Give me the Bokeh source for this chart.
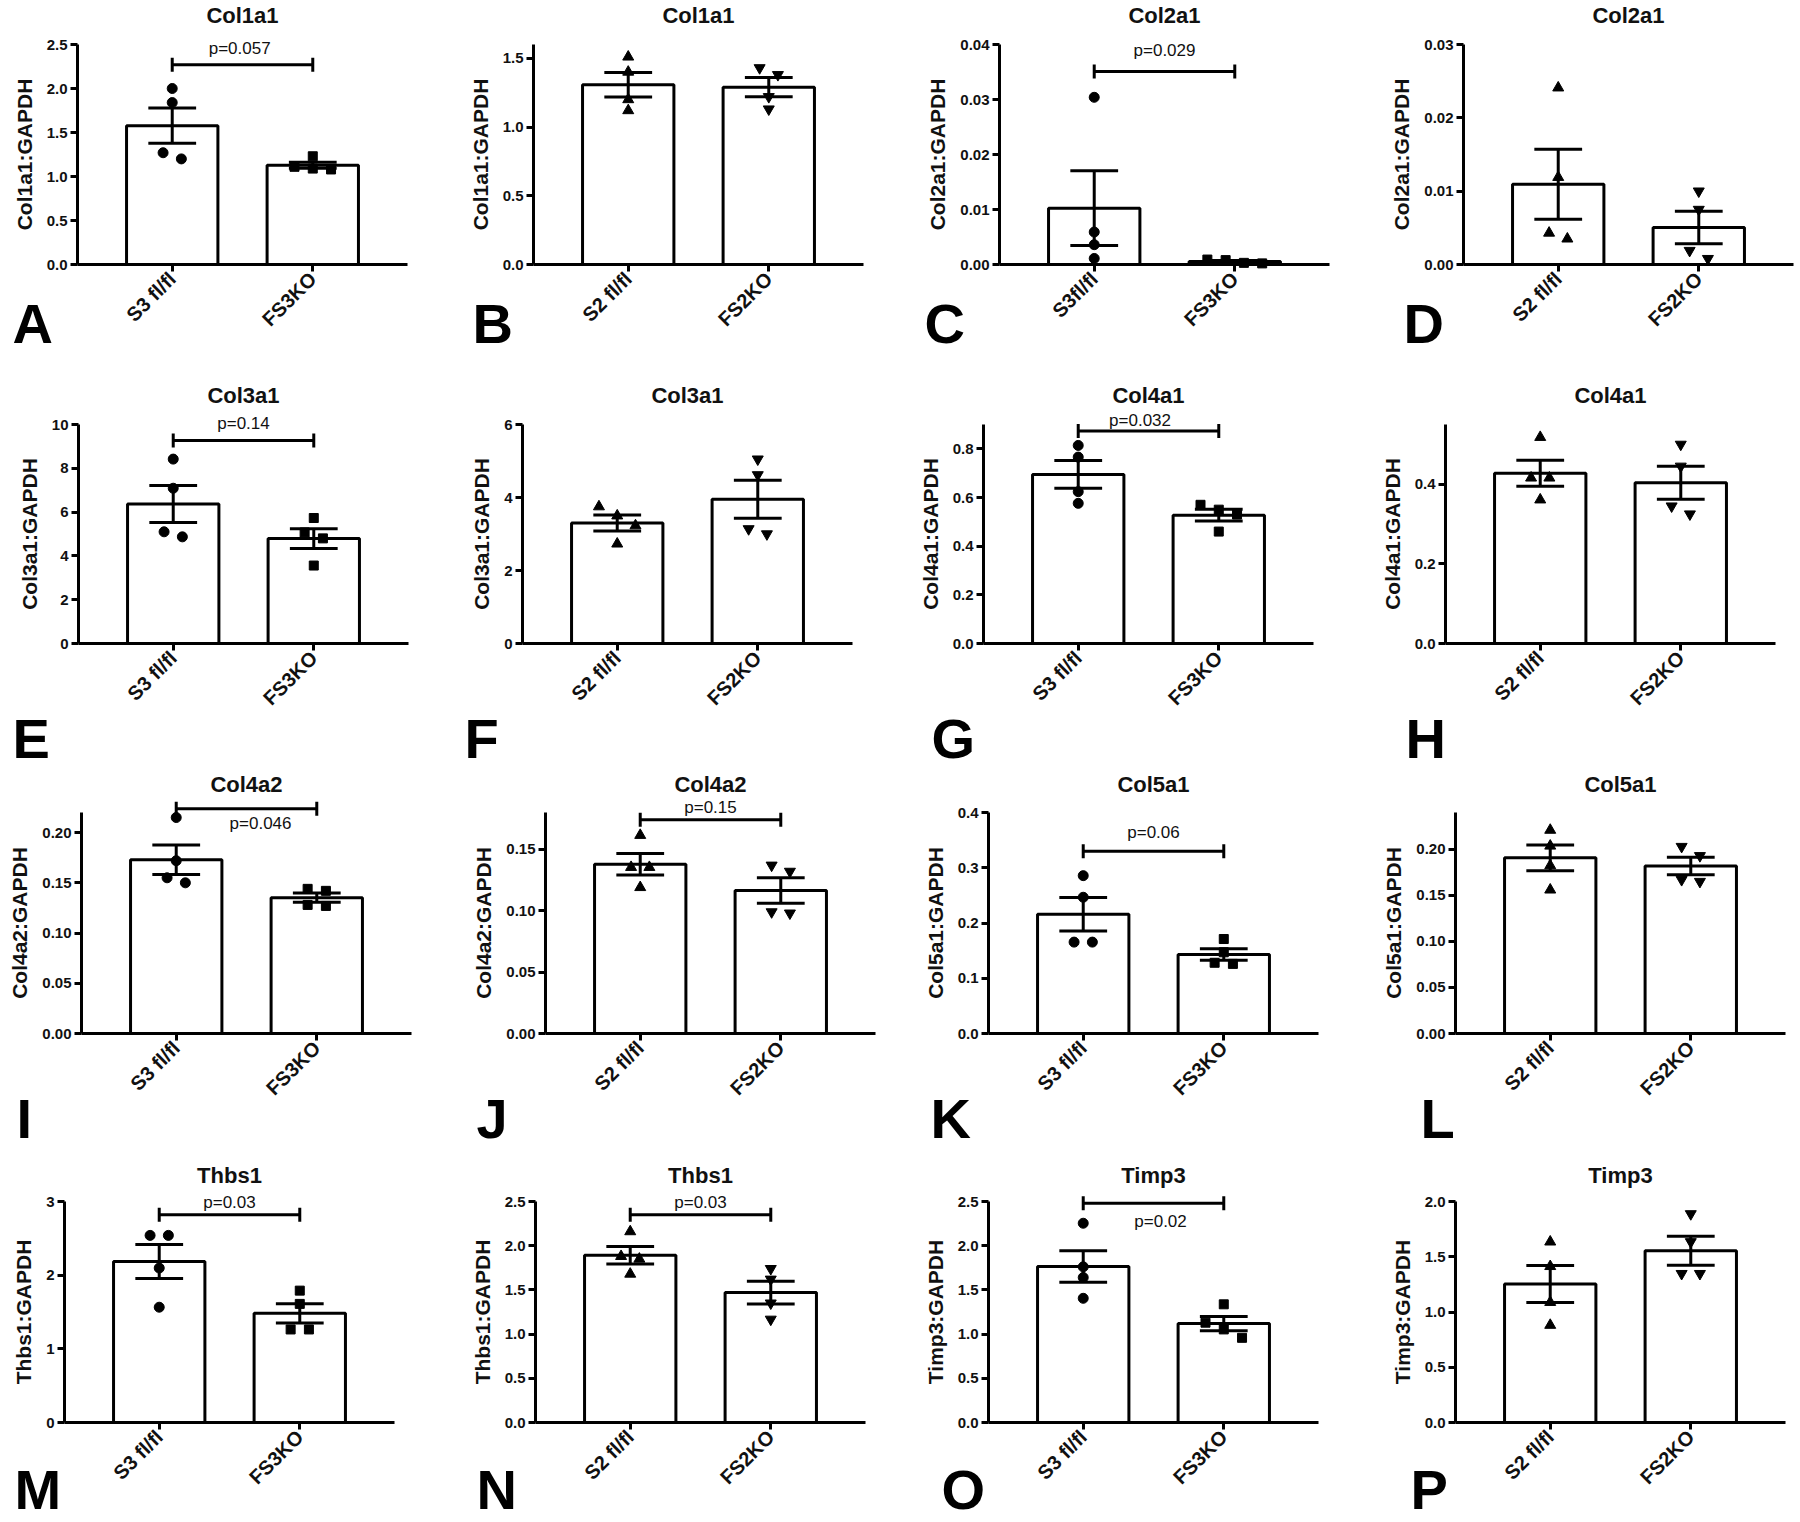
import numpy as np
from math import pi
from bokeh.plotting import figure
from bokeh.layouts import row, column
from bokeh.models import Label, FixedTicker, NumeralTickFormatter, Range1d
from bokeh.embed import file_html
from bokeh.resources import INLINE

FONT = "Liberation Sans"

# ---------------- data ----------------
panel_letters = list("ABCDEFGHIJKLMNOP")
genes = ["Col1a1", "Col1a1", "Col2a1", "Col2a1",
         "Col3a1", "Col3a1", "Col4a1", "Col4a1",
         "Col4a2", "Col4a2", "Col5a1", "Col5a1",
         "Thbs1", "Thbs1", "Timp3", "Timp3"]
groups_s3 = ["S3 fl/fl", "FS3KO"]
groups_s3_nospace = ["S3fl/fl", "FS3KO"]
groups_s2 = ["S2 fl/fl", "FS2KO"]
panel_groups = [groups_s3, groups_s2, groups_s3_nospace, groups_s2] + [groups_s3, groups_s2] * 6

A_ctrl = [2.00, 1.84, 1.27, 1.20];         A_ko = [1.23, 1.11, 1.09, 1.08]
B_ctrl = [1.51, 1.40, 1.20, 1.12];         B_ko = [1.43, 1.38, 1.22, 1.13]
C_ctrl = [0.0304, 0.0059, 0.0036, 0.0011]; C_ko = [0.0009, 0.0008, 0.0003, 0.0002]
D_ctrl = [0.0241, 0.0119, 0.0043, 0.0035]; D_ko = [0.0100, 0.0075, 0.0019, 0.0008]
E_ctrl = [8.42, 7.09, 5.10, 4.87];         E_ko = [5.73, 5.07, 4.80, 3.56]
F_ctrl = [3.75, 3.50, 3.23, 2.73];         F_ko = [5.05, 4.62, 3.14, 3.00]
G_ctrl = [0.814, 0.766, 0.624, 0.576];     G_ko = [0.57, 0.55, 0.53, 0.46]
H_ctrl = [0.518, 0.416, 0.416, 0.361];     H_ko = [0.50, 0.445, 0.345, 0.325]
I_ctrl = [0.215, 0.172, 0.155, 0.150];     I_ko = [0.144, 0.142, 0.128, 0.127]
J_ctrl = [0.1615, 0.1354, 0.1354, 0.119];  J_ko = [0.137, 0.132, 0.099, 0.098]
K_ctrl = [0.2857, 0.2466, 0.1654, 0.1654]; K_ko = [0.171, 0.147, 0.128, 0.126]
L_ctrl = [0.2209, 0.2037, 0.1824, 0.156];  L_ko = [0.203, 0.193, 0.167, 0.165]
M_ctrl = [2.54, 2.54, 2.097, 1.565];       M_ko = [1.79, 1.61, 1.263, 1.263]
N_ctrl = [2.16, 1.88, 1.85, 1.68];         N_ko = [1.74, 1.62, 1.35, 1.167]
O_ctrl = [2.254, 1.761, 1.64, 1.405];      O_ko = [1.337, 1.129, 1.053, 0.958]
P_ctrl = [1.635, 1.413, 1.088, 0.881];     P_ko = [1.888, 1.635, 1.347, 1.347]

ctrl_values = [A_ctrl, B_ctrl, C_ctrl, D_ctrl, E_ctrl, F_ctrl, G_ctrl, H_ctrl,
               I_ctrl, J_ctrl, K_ctrl, L_ctrl, M_ctrl, N_ctrl, O_ctrl, P_ctrl]
ko_values = [A_ko, B_ko, C_ko, D_ko, E_ko, F_ko, G_ko, H_ko,
             I_ko, J_ko, K_ko, L_ko, M_ko, N_ko, O_ko, P_ko]

# y axis extents and ticks
y_max = [2.5, 1.6, 0.04, 0.03, 10, 6, 0.9, 0.55, 0.22, 0.18, 0.4, 0.24, 3, 2.5, 2.5, 2.0]
y_ticks = [
    [0, 0.5, 1.0, 1.5, 2.0, 2.5], [0, 0.5, 1.0, 1.5],
    [0, 0.01, 0.02, 0.03, 0.04], [0, 0.01, 0.02, 0.03],
    [0, 2, 4, 6, 8, 10], [0, 2, 4, 6],
    [0, 0.2, 0.4, 0.6, 0.8], [0, 0.2, 0.4],
    [0, 0.05, 0.10, 0.15, 0.20], [0, 0.05, 0.10, 0.15],
    [0, 0.1, 0.2, 0.3, 0.4], [0, 0.05, 0.10, 0.15, 0.20],
    [0, 1, 2, 3], [0, 0.5, 1.0, 1.5, 2.0, 2.5],
    [0, 0.5, 1.0, 1.5, 2.0, 2.5], [0, 0.5, 1.0, 1.5, 2.0],
]
y_formats = ["0.0", "0.0", "0.00", "0.00", "0", "0", "0.0", "0.0",
             "0.00", "0.00", "0.0", "0.00", "0", "0.0", "0.0", "0.0"]

# p-values: panel index -> (text, bracket height, text height, text x)
p_values = {
    0: ("p=0.057", 2.27, 2.45, 1.48),
    2: ("p=0.029", 0.0351, 0.0389, 1.5),
    4: ("p=0.14", 9.27, 10.05, 1.5),
    6: ("p=0.032", 0.873, 0.916, 1.44),
    8: ("p=0.046", 0.2237, 0.2088, 1.6),
    9: ("p=0.15", 0.174, 0.1843, 1.5),
    10: ("p=0.06", 0.33, 0.364, 1.5),
    12: ("p=0.03", 2.82, 2.99, 1.5),
    13: ("p=0.03", 2.35, 2.49, 1.5),
    14: ("p=0.02", 2.48, 2.27, 1.55),
}

# ---------------- layout (pixels in page) ----------------
COL_CELLS = [(0, 450), (450, 900), (900, 1350), (1350, 1800)]
ROW_CELLS = [(0, 380), (380, 771), (771, 1150), (1150, 1522)]
AXIS_TOP = [44, 424, 812, 1201]
X_AXIS = [264, 643, 1033, 1422]
TITLE_Y = [15, 395, 784, 1175]
LETTER_CY = [323, 738, 1118, 1489]
FRAME_LEFT = [77, 533, 999, 1463, 78, 522, 983, 1445,
              81, 545, 988, 1455, 64, 535, 988, 1455]
LETTER_X = [12, 472, 924, 1403, 12, 464, 931, 1405,
            16, 476, 930, 1420, 14, 476, 941, 1410]
AXIS_W = 330
X0, X1 = 0.326, 2.674
PPX = AXIS_W / (X1 - X0)

markers_s3 = ["circle", "square"]
markers_s2 = ["triangle", "inverted_triangle"]
marker_sizes = {"circle": 10, "square": 9, "triangle": 11, "inverted_triangle": 11}


def swarm(vals, ppu, thr=10.0, step=0.13):
    order = sorted(range(len(vals)), key=lambda i: -vals[i])
    clusters = []
    for i in order:
        if clusters and (vals[clusters[-1][-1]] - vals[i]) * ppu < thr:
            clusters[-1].append(i)
        else:
            clusters.append([i])
    off = [0.0] * len(vals)
    for cl in clusters:
        n = len(cl)
        for k, i in enumerate(cl):
            off[i] = (k - (n - 1) / 2) * step
    return off


figs_rows = []
for r in range(4):
    figs = []
    for c in range(4):
        idx = r * 4 + c
        cl, cr = COL_CELLS[c]
        ct, cb = ROW_CELLS[r]
        fl = FRAME_LEFT[idx]
        aw = min(AXIS_W, cr - 3 - fl)
        xa, at = X_AXIS[r], AXIS_TOP[r]
        ymax = y_max[idx]
        ppu = (xa - at) / ymax

        def xd(px):
            return X0 + (px - fl) / PPX

        def yd(py):
            return (xa - py) / ppu

        p = figure(width=cr - cl, height=cb - ct,
                   x_range=Range1d(xd(cl), xd(cr)), y_range=Range1d(yd(cb), yd(ct)),
                   output_backend="svg", toolbar_location=None,
                   min_border_left=0, min_border_right=0,
                   min_border_top=0, min_border_bottom=0)
        p.outline_line_color = None
        p.xgrid.visible = False
        p.ygrid.visible = False
        p.background_fill_color = "white"
        p.border_fill_color = "white"

        cats = panel_groups[idx]
        mk = markers_s3 if idx % 2 == 0 else markers_s2
        groups = [ctrl_values[idx], ko_values[idx]]
        means = [float(np.mean(g)) for g in groups]
        sems = [float(np.std(g, ddof=1) / np.sqrt(len(g))) for g in groups]

        p.vbar(x=[1, 2], top=means, bottom=0, width=0.65, fill_color="white",
               line_color="black", line_width=3)
        for gi, vals in enumerate(groups):
            offs = swarm(vals, ppu)
            xs = [gi + 1 + o for o in offs]
            p.scatter(xs, vals, marker=mk[gi], size=marker_sizes[mk[gi]],
                      fill_color="black", line_color="black")
        xs = [1, 2]
        lo = [m - s for m, s in zip(means, sems)]
        hi = [m + s for m, s in zip(means, sems)]
        p.segment(x0=xs, y0=lo, x1=xs, y1=hi, line_color="black", line_width=3)
        cap = 0.17
        p.segment(x0=[x - cap for x in xs] * 2, y0=lo + hi,
                  x1=[x + cap for x in xs] * 2, y1=lo + hi,
                  line_color="black", line_width=3)

        if idx in p_values:
            txt, yb, yt, tx = p_values[idx]
            h = 7 / ppu
            p.segment(x0=[1, 1, 2], y0=[yb, yb - h, yb - h],
                      x1=[2, 1, 2], y1=[yb, yb + h, yb + h],
                      line_color="black", line_width=3)
            p.add_layout(Label(x=tx, y=yt, text=txt, text_align="center",
                               text_baseline="middle", text_font=FONT,
                               text_font_size="17px", text_color="#111111"))

        # title
        p.add_layout(Label(x=xd(fl + AXIS_W / 2), y=yd(TITLE_Y[r]), text=genes[idx],
                           text_align="center", text_baseline="middle",
                           text_font=FONT, text_font_size="22px",
                           text_font_style="bold", text_color="#111111"))
        # panel letter
        p.add_layout(Label(x=xd(LETTER_X[idx]), y=yd(LETTER_CY[r]),
                           text=panel_letters[idx], text_align="left",
                           text_baseline="middle", text_font=FONT,
                           text_font_size="56px", text_font_style="bold",
                           text_color="black"))

        # axes drawn inside the frame at fixed positions
        for ax in (p.xaxis[0], p.yaxis[0]):
            ax.axis_line_width = 3
            ax.axis_line_color = "black"
            ax.major_tick_line_width = 3
            ax.major_tick_line_color = "black"
            ax.major_tick_out = 7
            ax.major_tick_in = 0
            ax.minor_tick_out = 0
            ax.minor_tick_in = 0
            ax.major_label_text_font = FONT
            ax.major_label_text_font_style = "bold"
            ax.major_label_text_color = "#111111"

        p.yaxis.fixed_location = xd(fl)
        p.yaxis.ticker = FixedTicker(ticks=y_ticks[idx])
        p.yaxis.formatter = NumeralTickFormatter(format=y_formats[idx])
        p.yaxis.bounds = (0, ymax)
        p.yaxis.major_label_text_font_size = "15px"
        p.yaxis.major_label_standoff = 3
        p.yaxis.axis_label = genes[idx] + ":GAPDH"
        p.yaxis.axis_label_text_font = FONT
        p.yaxis.axis_label_text_font_size = "21px"
        p.yaxis.axis_label_text_font_style = "bold"
        p.yaxis.axis_label_text_color = "#111111"
        p.yaxis.axis_label_standoff = 8

        p.xaxis.fixed_location = 0
        p.xaxis.bounds = (xd(fl), xd(fl + aw))
        p.xaxis.ticker = FixedTicker(ticks=[1, 2])
        p.xaxis.major_label_overrides = {1: cats[0], 2: cats[1]}
        p.xaxis.major_label_orientation = pi / 4
        p.xaxis.major_label_text_font_size = "20px"
        p.xaxis.major_label_standoff = 4

        figs.append(p)
    figs_rows.append(row(*figs, spacing=0))

layout = column(*figs_rows, spacing=0)
open("out.html", "w").write(file_html(layout, INLINE))
